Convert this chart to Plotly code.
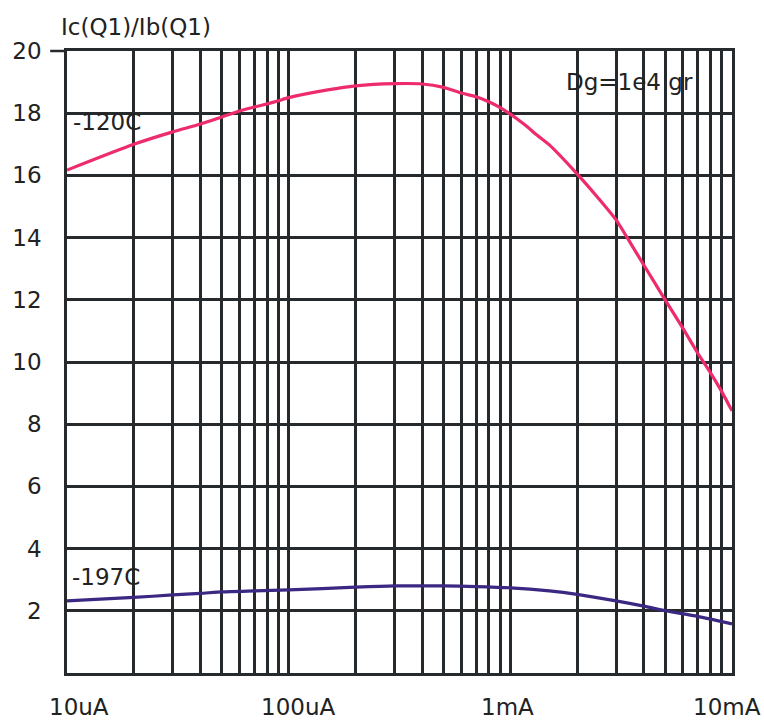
import math
import plotly.graph_objects as go

# ---- data ----
current_A = [1e-5, 2e-5, 3e-5, 4e-5, 5e-5, 6e-5, 7e-5, 8e-5, 9e-5,
             1e-4, 1.5e-4, 2e-4, 3e-4, 4e-4, 5e-4, 6e-4, 7e-4, 8e-4, 9e-4,
             1e-3, 1.1e-3, 1.2e-3, 1.3e-3, 1.5e-3, 2e-3, 2.5e-3, 3e-3, 3.5e-3,
             4e-3, 5e-3, 6e-3, 7e-3, 8e-3, 9e-3, 1e-2]
beta_m120 = [16.17, 17.0, 17.4, 17.65, 17.88, 18.07, 18.2, 18.3, 18.4,
             18.5, 18.75, 18.88, 18.95, 18.94, 18.83, 18.65, 18.53, 18.37, 18.18,
             17.97, 17.76, 17.55, 17.33, 16.98, 16.05, 15.26, 14.57, 13.8,
             13.12, 11.99, 11.09, 10.29, 9.65, 9.04, 8.43]

current_B = [1e-5, 2e-5, 3e-5, 4e-5, 5e-5, 7e-5, 1e-4, 2e-4, 3e-4, 5e-4,
             7e-4, 1e-3, 1.5e-3, 2e-3, 3e-3, 4e-3, 5e-3, 7e-3, 1e-2]
beta_m197 = [2.32, 2.43, 2.51, 2.56, 2.61, 2.64, 2.67, 2.76, 2.8, 2.8,
             2.78, 2.74, 2.64, 2.53, 2.32, 2.15, 2.0, 1.82, 1.58]

x_major_vals = [1e-5, 1e-4, 1e-3, 1e-2]
x_major_text = ["10uA", "100uA", "1mA", "10mA"]
y_tick_vals = [2, 4, 6, 8, 10, 12, 14, 16, 18, 20]
y_tick_text = ["2", "4", "6", "8", "10", "12", "14", "16", "18", "20"]

title_text = "Ic(Q1)/Ib(Q1)"
label_m120 = "-120C"
label_m197 = "-197C"
note_text = "Dg=1e4 gr"

# grid values: 1..9 times each decade
x_grid_vals = []
for d in [1e-5, 1e-4, 1e-3]:
    for m in range(1, 10):
        x_grid_vals.append(m * d)
x_grid_vals.append(1e-2)

# ---- style ----
FONT = "DejaVu Sans"
FS = 23
TXT = "#222222"
GRID = "#272a2c"
PINK = "#ee2c6c"
PURPLE = "#3b2882"

fig = go.Figure()
fig.add_trace(go.Scatter(x=current_A, y=beta_m120, mode="lines",
                         line=dict(color=PINK, width=3.2, shape="spline", smoothing=0.6),
                         hoverinfo="skip"))
fig.add_trace(go.Scatter(x=current_B, y=beta_m197, mode="lines",
                         line=dict(color=PURPLE, width=3.2, shape="spline", smoothing=0.6),
                         hoverinfo="skip"))

W, H = 764, 720
L, R, T, B = 60, 32, 51, 47
pw, ph = W - L - R, H - T - B

def px(xp):
    return (xp - L) / pw

def py(yp):
    return (H - B - yp) / ph

font = dict(family=FONT, size=FS, color=TXT)
annotations = []
# x tick labels as annotations (pixel offsets match the reference layout)
x_label_shift = [12, 9, -3, -5]
for v, t, s in zip(x_major_vals, x_major_text, x_label_shift):
    annotations.append(dict(x=math.log10(v), y=0, xref="x", yref="y", text=t, showarrow=False,
                            xanchor="center", yanchor="middle", xshift=s, yshift=-34,
                            font=font))
annotations.append(dict(x=px(52), y=py(27), xref="paper", yref="paper", text=title_text,
                        showarrow=False, xanchor="left", yanchor="middle", font=font))
annotations.append(dict(x=px(64), y=py(122), xref="paper", yref="paper", text=label_m120,
                        showarrow=False, xanchor="left", yanchor="middle", font=font))
annotations.append(dict(x=px(63), y=py(577), xref="paper", yref="paper", text=label_m197,
                        showarrow=False, xanchor="left", yanchor="middle", font=font))
annotations.append(dict(x=px(562), y=py(82), xref="paper", yref="paper", text=note_text,
                        showarrow=False, xanchor="left", yanchor="middle", font=font))

fig.update_layout(
    width=W, height=H,
    margin=dict(l=L, r=R, t=T, b=B),
    plot_bgcolor="white", paper_bgcolor="white",
    showlegend=False,
    annotations=annotations,
    shapes=[dict(type="line", xref="paper", yref="paper", x0=px(43), x1=0, y0=1, y1=1,
                 line=dict(color=GRID, width=2.5))],
)
fig.update_xaxes(type="log", range=[-5, -2], tickvals=x_grid_vals, showticklabels=False,
                 showgrid=True, gridcolor=GRID, gridwidth=2.5, zeroline=False,
                 showline=True, linecolor=GRID, linewidth=2.5, mirror=True, ticks="")
fig.update_yaxes(range=[0, 20], tickvals=y_tick_vals, ticktext=y_tick_text,
                 showgrid=True, gridcolor=GRID, gridwidth=2.5, zeroline=False,
                 showline=True, linecolor=GRID, linewidth=2.5, mirror=True, ticks="",
                 ticklabelstandoff=18, tickfont=font)

fig.write_html("out.html")
